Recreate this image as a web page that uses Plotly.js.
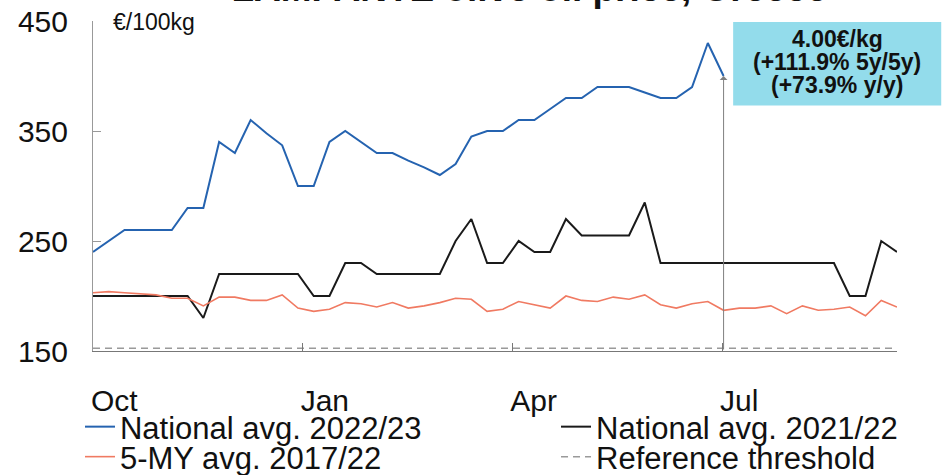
<!DOCTYPE html>
<html>
<head>
<meta charset="utf-8">
<script src="https://cdn.plot.ly/plotly-3.0.1.min.js"></script>
<style>html,body{margin:0;padding:0;background:#fff;}#chart{width:945px;height:475px;}</style>
</head>
<body>
<div id="chart"></div>
<script>
// Marketing-year week index (Oct -> Sep)
const weeks = [1,2,3,4,5,6,7,8,9,10,11,12,13,14,15,16,17,18,19,20,21,22,23,24,25,26,
  27,28,29,30,31,32,33,34,35,36,37,38,39,40,41,42,43,44,45,46,47,48,49,50,51,52];

// National avg. 2022/23 (€/100kg), available up to week 41
const national2223 = [240,250,260,260,260,260,280,280,340,330,360,348,337,300,300,340,350,340,330,330,
  323,317,310,320,345,350,350,360,360,370,380,380,390,390,390,385,380,380,390,430,400];

// National avg. 2021/22 (€/100kg)
const national2122 = [200,200,200,200,200,200,200,180,220,220,220,220,220,220,200,200,230,230,220,220,
  220,220,220,250,270,230,230,250,240,240,270,255,255,255,255,285,230,230,230,230,
  230,230,230,230,230,230,230,230,200,200,250,240];

// 5-MY avg. 2017/22 (€/100kg)
const avg5y = [203,204,203,202,201,198,198,191,199,199,196,196,201,189,186,188,194,193,190,194,
  189,191,194,198,197,186,188,195,192,189,200,196,195,199,197,201,192,189,193,195,
  187,189,189,191,184,191,187,188,190,182,196,190];

// Reference threshold (€/100kg)
const thresholdWeeks = [1, 52];
const thresholdValues = [152.4, 152.4];

// Axis tick labels
const monthLabels = ['Oct','Jan','Apr','Jul'];
const monthTickWeeks = [1, 14.3, 27.6, 40.9];
const yTicks = [150, 250, 350, 450];

const boxLines = ['4.00€/kg', '(+111.9% 5y/5y)', '(+73.9% y/y)'];
const title = 'LAMPANTE olive oil price, Greece';
const unitLabel = '€/100kg';

const FONT = 'Liberation Sans, Arial, sans-serif';
const lastIdx = national2223.length - 1;

const traces = [
  {x: weeks.slice(0, national2223.length), y: national2223, type: 'scatter', mode: 'lines',
   name: 'National avg. 2022/23', line: {color: '#2563B0', width: 2}, legend: 'legend'},
  {x: weeks, y: national2122, type: 'scatter', mode: 'lines',
   name: 'National avg. 2021/22', line: {color: '#1a1a1a', width: 2}, legend: 'legend2'},
  {x: weeks, y: avg5y, type: 'scatter', mode: 'lines',
   name: '5-MY avg. 2017/22', line: {color: '#F07A62', width: 1.6}, legend: 'legend3'},
  {x: thresholdWeeks, y: thresholdValues, type: 'scatter', mode: 'lines',
   name: 'Reference threshold', line: {color: '#9a9a9a', width: 1.5, dash: '7px,5px'}, legend: 'legend4'}
];

function legendAt(x, y) {
  return {x: x, y: y, xref: 'paper', yref: 'paper', xanchor: 'left', yanchor: 'middle',
    orientation: 'v', font: {family: FONT, size: 31, color: '#111'}, bgcolor: 'rgba(0,0,0,0)',
    borderwidth: 0, itemwidth: 30, tracegroupgap: 0};
}

const boxCenterY = [0.9465, 0.876, 0.805];
const annotations = [
  {xref: 'paper', yref: 'paper', x: 0.0224, y: 0.9955, xanchor: 'left', yanchor: 'middle',
   text: unitLabel, showarrow: false, font: {family: FONT, size: 23, color: '#111'}},
  {xref: 'x', yref: 'y', x: weeks[lastIdx], y: national2223[lastIdx], axref: 'x', ayref: 'y',
   ax: weeks[lastIdx], ay: yTicks[0], text: '', showarrow: true, arrowhead: 1, arrowsize: 1.3,
   arrowwidth: 1, arrowcolor: '#7f7f7f', standoff: 0, startstandoff: 0}
];
boxLines.forEach((t, i) => annotations.push({
  xref: 'paper', yref: 'paper', x: 0.9257, y: boxCenterY[i], xanchor: 'center', yanchor: 'middle',
  text: '<b>' + t + '</b>', showarrow: false, font: {family: FONT, size: 23, color: '#111'}
}));

const layout = {
  width: 945, height: 475,
  margin: {l: 93, r: 48, t: 21, b: 124, pad: 0, autoexpand: false},
  paper_bgcolor: '#ffffff', plot_bgcolor: '#ffffff',
  font: {family: FONT, color: '#111'},
  title: {text: '<b>' + title + '</b>', xref: 'container', yref: 'container', x: 0.56, y: 0.998,
    xanchor: 'center', yanchor: 'bottom', font: {family: FONT, size: 37, color: '#111'}},
  xaxis: {range: [weeks[0], weeks[weeks.length - 1]], tickmode: 'array', tickvals: monthTickWeeks,
    ticktext: monthLabels, tickangle: 0, ticks: 'inside', ticklen: 8, tickcolor: '#777', tickwidth: 1,
    showline: true, linecolor: '#777', linewidth: 1, showgrid: false, zeroline: false,
    ticklabelposition: 'outside right', ticklabelstandoff: 23, ticklabelshift: -3,
    tickfont: {family: FONT, size: 30, color: '#111'}},
  yaxis: {range: [150, 450], tickmode: 'array', tickvals: yTicks, ticks: 'inside', ticklen: 8,
    tickcolor: '#999', tickwidth: 1, showline: true, linecolor: '#999', linewidth: 1,
    showgrid: false, zeroline: false, ticklabelstandoff: 18,
    tickfont: {family: FONT, size: 30, color: '#111'}},
  legend: legendAt(-0.0162, -0.2303),
  legend2: legendAt(0.5759, -0.2303),
  legend3: legendAt(-0.0162, -0.3212),
  legend4: legendAt(0.5759, -0.3212),
  shapes: [{type: 'rect', xref: 'paper', yref: 'paper', x0: 0.7962, x1: 1.055, y0: 0.744, y1: 0.997,
    fillcolor: '#93DCEB', line: {width: 0}, layer: 'below'}],
  annotations: annotations,
  showlegend: true
};

Plotly.newPlot('chart', traces, layout, {displayModeBar: false, staticPlot: true});
</script>
</body>
</html>
